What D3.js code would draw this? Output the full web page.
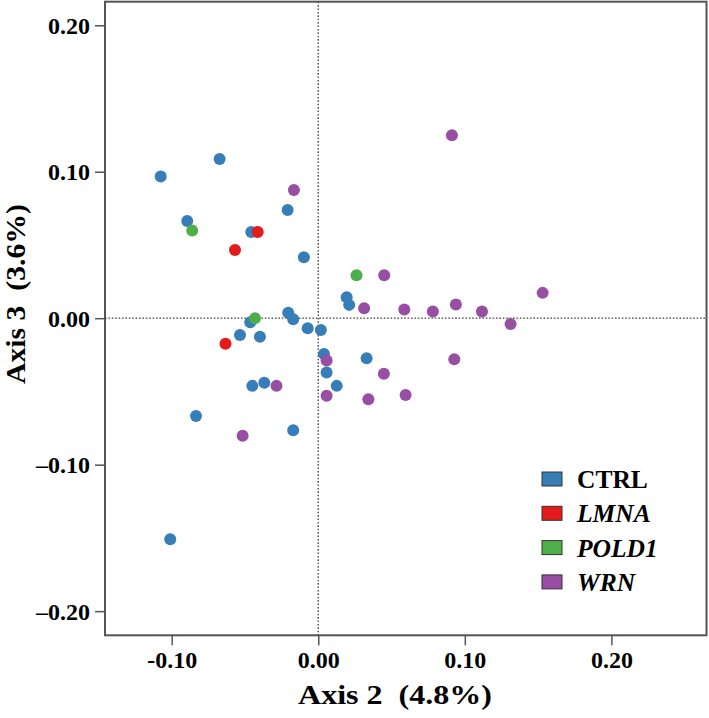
<!DOCTYPE html>
<html>
<head>
<meta charset="utf-8">
<script src="https://cdn.jsdelivr.net/npm/d3@7"></script>
<style>
  html, body { margin: 0; padding: 0; background: #fff; }
  svg { display: block; }
  text { font-family: "Liberation Serif", "Times New Roman", serif; font-weight: bold; fill: #000; }
</style>
</head>
<body>
<svg id="chart" width="709" height="718"></svg>
<script>
// ---- data ----
const groups = ["CTRL", "LMNA", "POLD1", "WRN"];
const groupColors = ["#377eb8", "#e41a1c", "#4daf4a", "#984ea3"];
const groupItalic = [false, true, true, true];

const ctrlX = [-0.1075, -0.0673, -0.0894, -0.0457, -0.0209, -0.0098, -0.0205, -0.0171, -0.0464, -0.0534, -0.0398, -0.0072, 0.0018, 0.0039, 0.0194, 0.0211, 0.0330, 0.0057, 0.0126, -0.0450, -0.0368, -0.0834, -0.0171, -0.1010];
const ctrlY = [0.0967, 0.1087, 0.0664, 0.0589, 0.0739, 0.0416, 0.0038, -0.0007, -0.0027, -0.0114, -0.0126, -0.0068, -0.0080, -0.0244, 0.0143, 0.0091, -0.0273, -0.0371, -0.0462, -0.0462, -0.0440, -0.0667, -0.0765, -0.1509];

const lmnaX = [-0.0413, -0.0568, -0.0633];
const lmnaY = [0.0589, 0.0466, -0.0175];

const pold1X = [-0.0860, -0.0432, 0.0261];
const pold1Y = [0.0598, 0.0000, 0.0294];

const wrnX = [-0.0166, 0.0912, 0.0450, 0.0313, 0.0587, 0.0782, 0.0939, 0.1117, 0.1312, 0.1531, 0.0928, 0.0057, -0.0285, 0.0057, -0.0516, 0.0448, 0.0342, 0.0596];
const wrnY = [0.0876, 0.1249, 0.0294, 0.0068, 0.0059, 0.0045, 0.0093, 0.0045, -0.0039, 0.0173, -0.0280, -0.0289, -0.0462, -0.0530, -0.0803, -0.0380, -0.0553, -0.0524];

const xTicks = [-0.10, 0.00, 0.10, 0.20];
const yTicks = [-0.20, -0.10, 0.00, 0.10, 0.20];
const xTickLabels = ["-0.10", "0.00", "0.10", "0.20"];
const yTickLabels = ["\u20130.20", "\u20130.10", "0.00", "0.10", "0.20"];
const xTitle = "Axis 2\u00a0\u00a0(4.8%)";
const yTitle = "Axis 3\u00a0\u00a0(3.6%)";

// ---- layout ----
const svg = d3.select("#chart");
const L = 105, R = 706.5, T = 1.7, B = 635.3;
const x = d3.scaleLinear().domain([-0.1455, 0.2649]).range([L, R]);
const y = d3.scaleLinear().domain([-0.2165, 0.2161]).range([B, T]);

const frameColor = "#555";

// frame
svg.append("rect")
  .attr("x", L).attr("y", T).attr("width", R - L).attr("height", B - T)
  .attr("fill", "none").attr("stroke", frameColor).attr("stroke-width", 2);

// reference dotted lines
svg.append("line")
  .attr("x1", x(0)).attr("x2", x(0)).attr("y1", T).attr("y2", B)
  .attr("stroke", "#444").attr("stroke-width", 1.3).attr("stroke-dasharray", "1.6,1.8");
svg.append("line")
  .attr("x1", L).attr("x2", R).attr("y1", y(0)).attr("y2", y(0))
  .attr("stroke", "#444").attr("stroke-width", 1.3).attr("stroke-dasharray", "1.6,1.8");

// axes
const xAxis = d3.axisBottom(x).tickValues(xTicks).tickSize(10).tickPadding(5)
  .tickFormat((d, i) => xTickLabels[i]);
const gx = svg.append("g").attr("transform", `translate(0,${B})`).call(xAxis);
gx.select(".domain").remove();
gx.selectAll(".tick line").attr("stroke", frameColor).attr("stroke-width", 1.5);
gx.selectAll(".tick text")
  .attr("font-family", '"Liberation Serif", "Times New Roman", serif')
  .attr("font-weight", "bold").attr("font-size", 24).attr("fill", "#000")
  .attr("dy", null).attr("y", 33);

const yAxis = d3.axisLeft(y).tickValues(yTicks).tickSize(10).tickPadding(5)
  .tickFormat((d, i) => yTickLabels[i]);
const gy = svg.append("g").attr("transform", `translate(${L},0)`).call(yAxis);
gy.select(".domain").remove();
gy.selectAll(".tick line").attr("stroke", frameColor).attr("stroke-width", 1.5);
gy.selectAll(".tick text")
  .attr("font-family", '"Liberation Serif", "Times New Roman", serif')
  .attr("font-weight", "bold").attr("font-size", 24).attr("fill", "#000")
  .attr("x", -15).attr("dy", "0.33em");

// axis titles
svg.append("text")
  .attr("x", 395).attr("y", 704)
  .attr("text-anchor", "middle").attr("font-size", 27)
  .attr("textLength", 194).attr("lengthAdjust", "spacingAndGlyphs")
  .text(xTitle);
svg.append("text")
  .attr("transform", "translate(25,294) rotate(-90)")
  .attr("text-anchor", "middle").attr("font-size", 27)
  .attr("textLength", 180).attr("lengthAdjust", "spacingAndGlyphs")
  .text(yTitle);

// points
const seriesX = [ctrlX, lmnaX, pold1X, wrnX];
const seriesY = [ctrlY, lmnaY, pold1Y, wrnY];
groups.forEach((g, gi) => {
  const pts = seriesX[gi].map((v, i) => ({ x: v, y: seriesY[gi][i] }));
  svg.append("g").selectAll("circle").data(pts).join("circle")
    .attr("cx", d => x(d.x)).attr("cy", d => y(d.y)).attr("r", 6)
    .attr("fill", groupColors[gi]);
});

// legend
const legend = svg.append("g").attr("transform", "translate(542,472)");
groups.forEach((g, i) => {
  const row = legend.append("g").attr("transform", `translate(0,${i * 34.3})`);
  row.append("rect").attr("x", 0).attr("y", 0).attr("width", 20).attr("height", 14)
    .attr("fill", groupColors[i]).attr("stroke", "#333").attr("stroke-width", 1);
  row.append("text").attr("x", 35).attr("y", 16)
    .attr("font-size", 25.5)
    .attr("font-style", groupItalic[i] ? "italic" : "normal")
    .text(g);
});
</script>
</body>
</html>
